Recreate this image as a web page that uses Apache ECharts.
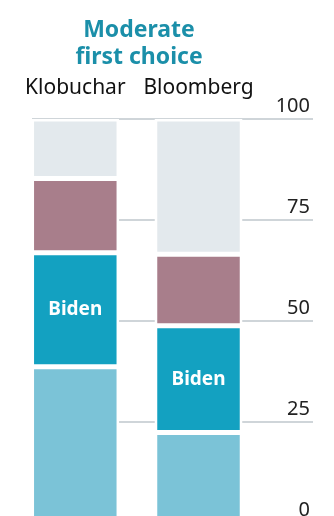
<!DOCTYPE html>
<html>
<head>
<meta charset="utf-8">
<script src="https://cdn.jsdelivr.net/npm/echarts@6/dist/echarts.min.js"></script>
<style>
  html, body { margin: 0; padding: 0; background: #fff; }
  #chart { width: 334px; height: 516px; }
</style>
</head>
<body>
<div id="chart"></div>
<script>
// values are shares (%) of each candidate's supporters
const categories = ['Klobuchar', 'Bloomberg'];
const lowerSeg = [38.7, 22.4];
const bidenSeg = [28.2, 26.4];
const mauveSeg = [18.4, 17.7];
const restSeg = [14.7, 33.5];
const yTicks = [0, 25, 50, 75, 100];

const font = '"Noto Sans", sans-serif';

const chart = echarts.init(document.getElementById('chart'));

function seg(name, data, color, label) {
    return {
        name: name,
        type: 'bar',
        stack: 'all',
        xAxisIndex: 1,
        yAxisIndex: 1,
        barWidth: 87.5,
        data: data,
        itemStyle: {color: color, borderColor: '#fff', borderWidth: 2.5},
        label: label ? {
            show: true,
            position: 'inside',
            formatter: label,
            color: '#fff',
            fontFamily: font,
            fontWeight: 'bold',
            fontSize: 19
        } : {show: false},
        emphasis: {disabled: true},
        animation: false
    };
}

const option = {
    animation: false,
    title: {
        text: 'Moderate\nfirst choice',
        left: 134,
        top: 12,
        textAlign: 'center',
        textStyle: {
            color: '#1b8fa9',
            fontFamily: font,
            fontWeight: 'bold',
            fontSize: 23,
            lineHeight: 27
        }
    },
    grid: [
        {left: 32, right: 21, top: 119, bottom: -7, outerBoundsMode: 'none'},
        {left: 13.7, width: 246.4, top: 119, bottom: -7, outerBoundsMode: 'none'}
    ],
    xAxis: [
        {gridIndex: 0, type: 'value', min: 0, max: 1, show: false},
        {
            gridIndex: 1,
            type: 'category',
            position: 'top',
            data: categories,
            axisLine: {show: false},
            axisTick: {show: false},
            axisLabel: {
                interval: 0,
                margin: 20,
                color: '#111',
                fontFamily: font,
                fontSize: 21
            }
        }
    ],
    yAxis: [
        {
            gridIndex: 0,
            type: 'value',
            position: 'right',
            min: yTicks[0],
            max: yTicks[yTicks.length - 1],
            interval: 25,
            axisLine: {show: false},
            axisTick: {show: false},
            splitLine: {lineStyle: {color: '#bfc7cc', width: 1.5}},
            axisLabel: {
                inside: true,
                margin: 3,
                verticalAlign: 'bottom',
                padding: [0, 0, 3, 0],
                color: '#222',
                fontFamily: font,
                fontSize: 20
            }
        },
        {gridIndex: 1, type: 'value', min: 0, max: 100, show: false}
    ],
    series: [
        seg('lower', lowerSeg, '#7bc3d7'),
        seg('Biden', bidenSeg, '#13a1c1', 'Biden'),
        seg('other', mauveSeg, '#a87e8b'),
        seg('rest', restSeg, '#e3e9ed')
    ]
};

chart.setOption(option);
</script>
</body>
</html>
